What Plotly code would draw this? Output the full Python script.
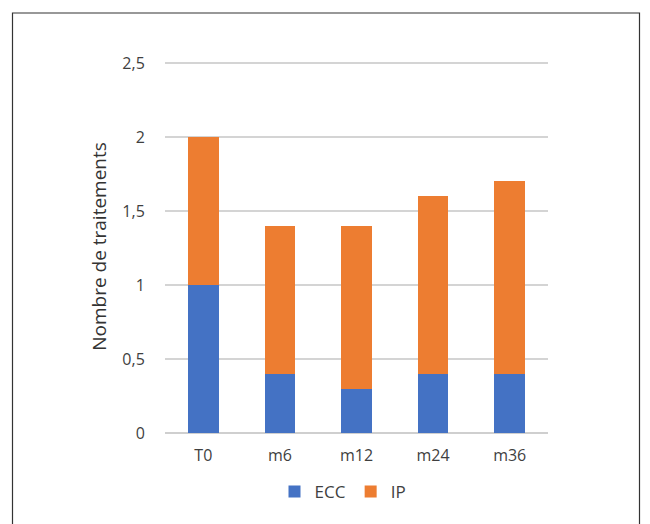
import plotly.graph_objects as go

categories = ["T0", "m6", "m12", "m24", "m36"]
ecc = [1.0, 0.4, 0.3, 0.4, 0.4]
ip = [1.0, 1.0, 1.1, 1.2, 1.3]
tick_vals = [0, 0.5, 1, 1.5, 2, 2.5]
tick_text = ["0", "0,5", "1", "1,5", "2", "2,5"]

font_family = "Open Sans, Lato, sans-serif"
text_color = "#3f3f3f"

fig = go.Figure()
fig.add_trace(go.Bar(name="ECC", x=categories, y=ecc, marker=dict(color="#4472C4", line=dict(width=0))))
fig.add_trace(go.Bar(name="IP", x=categories, y=ip, marker=dict(color="#ED7D31", line=dict(width=0))))

OFF = 8  # page body margin
W, H = 650, 524
# target screen pixels of the plot area
left_px, right_px, top_px, bottom_px = 165, 548, 60, 433
L = left_px - OFF
T = top_px - OFF
R = W - (right_px - OFF)
B = H - (bottom_px - OFF)
pw = W - L - R
ph = H - T - B

def px_x(p):
    return (p - OFF - L) / pw

def px_y(p):
    return (H - B - (p - OFF)) / ph

fig.update_layout(
    width=W, height=H,
    barmode="stack",
    bargap=0.6,
    margin=dict(l=L, r=R, t=T, b=B, autoexpand=False),
    paper_bgcolor="white",
    plot_bgcolor="white",
    font=dict(family=font_family, color=text_color, size=16),
    separators=", ",
    legend=dict(orientation="h", x=px_x(343), xanchor="center", y=px_y(492), yanchor="middle",
                font=dict(size=17, color=text_color), itemwidth=30, traceorder="normal"),
    xaxis=dict(showgrid=False, showline=False, ticks="outside", ticklen=8, tickcolor="rgba(0,0,0,0)",
               tickfont=dict(size=16), automargin=False),
    yaxis=dict(range=[0, 2.52], tickvals=tick_vals, ticktext=tick_text, showgrid=True,
               gridcolor="#d4d4d4", gridwidth=1.5, zeroline=True, zerolinecolor="#cfcfcf", zerolinewidth=1.5,
               showline=False, ticks="outside", ticklen=16, tickcolor="rgba(0,0,0,0)",
               tickfont=dict(size=16), automargin=False,
               title=dict(text="Nombre de traitements", font=dict(size=19, color="#333333"), standoff=10)),
    shapes=[dict(type="rect", xref="paper", yref="paper",
                 x0=px_x(12.5), x1=px_x(639.5), y0=px_y(545), y1=px_y(13),
                 line=dict(color="#333333", width=1.2), fillcolor="rgba(0,0,0,0)", layer="above")],
)

fig.write_html("out.html")
